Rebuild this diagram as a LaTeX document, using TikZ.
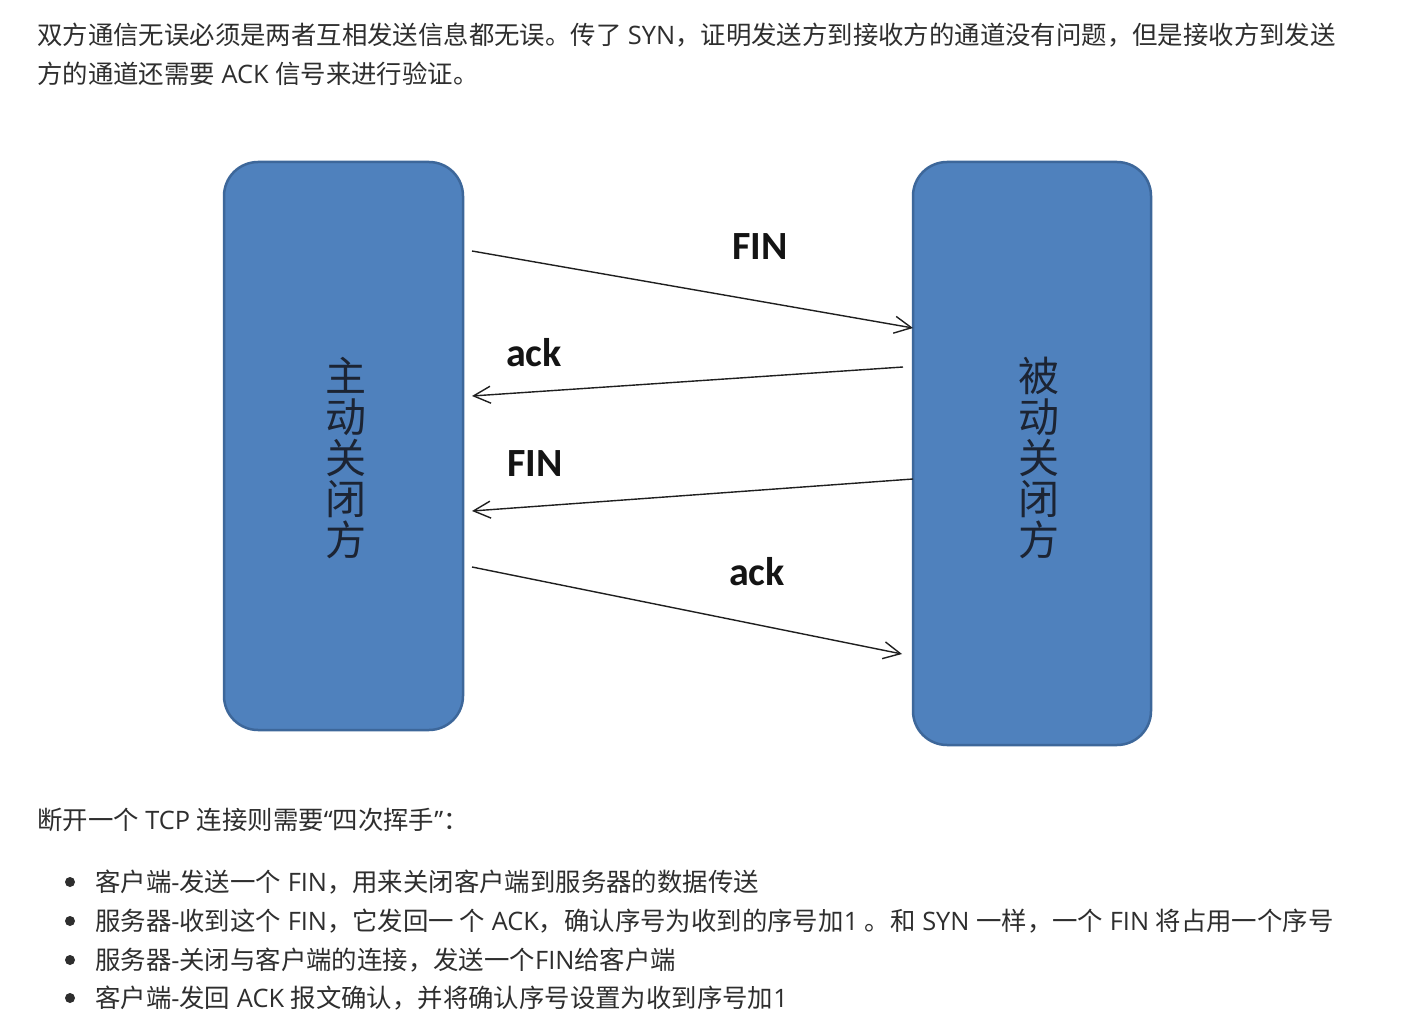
\documentclass[tikz,border=0pt]{standalone}
\usepackage{fontspec}
\setmainfont{Open Sans}
\newfontfamily\cjk{Noto Sans CJK SC}
\newfontfamily\lbl{Carlito}
\usetikzlibrary{arrows.meta}
\definecolor{boxfill}{HTML}{4F81BD}
\definecolor{boxline}{HTML}{3D679A}
\definecolor{txt}{HTML}{2E2E2E}
\definecolor{inbox}{HTML}{1C2433}
\newcommand\zh[1]{{\cjk #1}}
\tikzset{
  partybox/.style={draw=boxline, line width=2.5pt, fill=boxfill, rounded corners=34pt, inner sep=0pt},
  boxtext/.style={font=\cjk\fontsize{41}{41}\selectfont, text=inbox, align=center, inner sep=0pt},
  msg/.style={draw=black!88, line width=1.4pt, -{Straight Barb[length=17pt,width=17pt]}},
  msglabel/.style={font=\lbl\bfseries\fontsize{40}{44}\selectfont, text=black!92, inner sep=0pt, anchor=base},
  para/.style={font=\fontsize{25.4}{30}\selectfont, text=txt, inner sep=0pt, anchor=west},
  dot/.style={circle, fill=txt, inner sep=0pt, minimum size=10pt}
}
\begin{document}
\begin{tikzpicture}[x=1pt,y=-1pt]
\useasboundingbox (0,0) rectangle (1416,1024);
\fill[white] (0,0) rectangle (1416,1024);

% top paragraph
\node[para] (p1) at (37,35) {\zh{双方通信无误必须是两者互相发送信息都无误。传了} SYN\zh{，证明发送方到接收方的通道没有问题，但是接收方到发送}};
\node[para] (p2) at (37,74) {\zh{方的通道还需要} ACK \zh{信号来进行验证。}};

% boxes
\node[partybox, minimum width=239pt, minimum height=568pt] (L) at (343.5,446) {};
\node[partybox, minimum width=238pt, minimum height=583pt] (R) at (1032,453.5) {};
\node[boxtext] (Lt) at (346,458) {主\\动\\关\\闭\\方};
\node[boxtext] (Rt) at (1039,458) {被\\动\\关\\闭\\方};

% arrow end points
\coordinate (a1s) at (472,251);
\coordinate (a1e) at (913,328);
\coordinate (a2s) at (903,367);
\coordinate (a2e) at (472,396);
\coordinate (a3s) at (913,479);
\coordinate (a3e) at (472,511);
\coordinate (a4s) at (472,567);
\coordinate (a4e) at (902,654);

\draw[msg] (a1s) -- (a1e);
\draw[msg] (a2s) -- (a2e);
\draw[msg] (a3s) -- (a3e);
\draw[msg] (a4s) -- (a4e);

\node[msglabel] (l1) at (760,260) {FIN};
\node[msglabel] (l2) at (534,366) {ack};
\node[msglabel] (l3) at (535,476) {FIN};
\node[msglabel] (l4) at (757,585) {ack};

% bottom text
\node[para] (h) at (37,820) {\zh{断开一个} TCP \zh{连接则需要}“\zh{四次挥手}”\zh{：}};
\node[dot] (d1) at (70,882) {};
\node[dot] (d2) at (70,921) {};
\node[dot] (d3) at (70,960) {};
\node[dot] (d4) at (70,998) {};
\node[para] (b1) at (95,882) {\zh{客户端}-\zh{发送一个} FIN\zh{，用来关闭客户端到服务器的数据传送}};
\node[para] (b2) at (95,921) {\zh{服务器}-\zh{收到这个} FIN\zh{，它发回一 个} ACK\zh{，确认序号为收到的序号加}1 \zh{。和} SYN \zh{一样，一个} FIN \zh{将占用一个序号}};
\node[para] (b3) at (95,960) {\zh{服务器}-\zh{关闭与客户端的连接，发送一个}FIN\zh{给客户端}};
\node[para] (b4) at (95,998) {\zh{客户端}-\zh{发回} ACK \zh{报文确认，并将确认序号设置为收到序号加}1};
\end{tikzpicture}
\end{document}
